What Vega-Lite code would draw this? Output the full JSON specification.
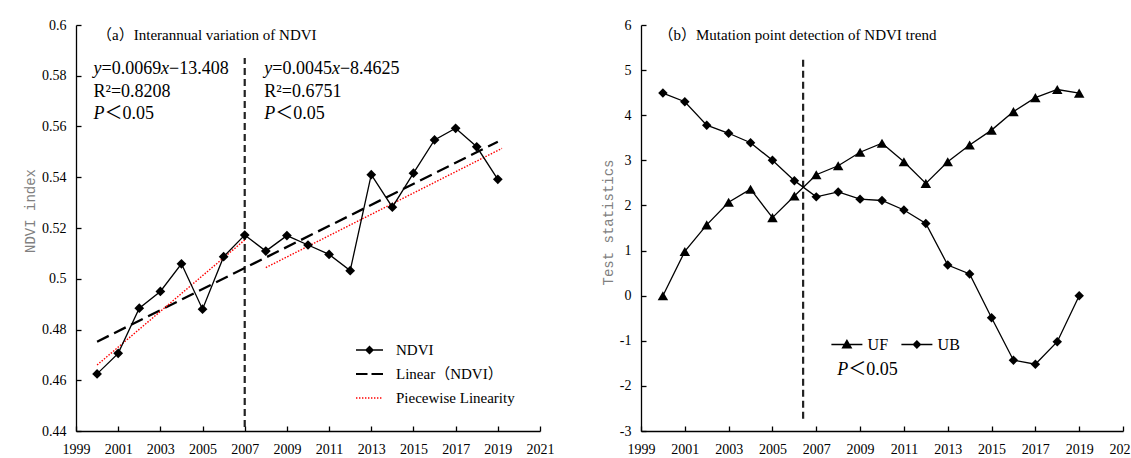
{
  "$schema": "https://vega.github.io/schema/vega-lite/v6.json",
  "background": "white",
  "padding": {"left": 23, "top": 18, "right": 0, "bottom": 0},
  "spacing": 47,
  "config": {
    "view": {"stroke": null},
    "axis": {
      "grid": false, "domainColor": "black", "domainWidth": 1.3,
      "tickColor": "black", "tickWidth": 1.3, "tickSize": -5,
      "labelFont": "Liberation Serif", "labelFontSize": 14, "labelColor": "black",
      "titleFont": "Liberation Mono", "titleFontSize": 14, "titleFontWeight": "normal",
      "titleColor": "#808080", "titlePadding": 4, "labelFlush": false, "labelOverlap": false
    },
    "axisX": {"labelPadding": 16.5},
    "axisY": {"labelPadding": 15},
    "legend": {"padding": 0}
  },
  "resolve": {
    "scale": {"color": "independent", "shape": "independent"},
    "legend": {"color": "independent", "shape": "independent"}
  },
  "datasets": {
    "ndvi": [
      {"series": "NDVI", "year": 2000, "value": 0.4625},
      {"series": "NDVI", "year": 2001, "value": 0.4706},
      {"series": "NDVI", "year": 2002, "value": 0.4884},
      {"series": "NDVI", "year": 2003, "value": 0.4950},
      {"series": "NDVI", "year": 2004, "value": 0.5059},
      {"series": "NDVI", "year": 2005, "value": 0.4880},
      {"series": "NDVI", "year": 2006, "value": 0.5087},
      {"series": "NDVI", "year": 2007, "value": 0.5172},
      {"series": "NDVI", "year": 2008, "value": 0.5109},
      {"series": "NDVI", "year": 2009, "value": 0.5170},
      {"series": "NDVI", "year": 2010, "value": 0.5133},
      {"series": "NDVI", "year": 2011, "value": 0.5096},
      {"series": "NDVI", "year": 2012, "value": 0.5032},
      {"series": "NDVI", "year": 2013, "value": 0.5410},
      {"series": "NDVI", "year": 2014, "value": 0.5282},
      {"series": "NDVI", "year": 2015, "value": 0.5416},
      {"series": "NDVI", "year": 2016, "value": 0.5547},
      {"series": "NDVI", "year": 2017, "value": 0.5593},
      {"series": "NDVI", "year": 2018, "value": 0.5520},
      {"series": "NDVI", "year": 2019, "value": 0.5392}
    ],
    "linear": [
      {"year": 2000, "value": 0.4752},
      {"year": 2019, "value": 0.5540}
    ],
    "piecewise": [
      {"seg": "a", "year": 2000, "value": 0.4660},
      {"seg": "a", "year": 2007, "value": 0.5153},
      {"seg": "b", "year": 2008, "value": 0.5044},
      {"seg": "b", "year": 2019.2, "value": 0.5514}
    ],
    "vlineA": [{"year": 2007, "value": 0.4416, "value2": 0.587}],
    "titleA": [{"year": 2000.0, "value": 0.5941, "text": "（a）Interannual variation of NDVI"}],
    "italicA0": [
      {"year": 1999.83, "value": 0.58069, "text": "y"},
      {"year": 2007.93, "value": 0.58069, "text": "y"},
      {"year": 1999.83, "value": 0.56276, "text": "P"},
      {"year": 2007.93, "value": 0.56276, "text": "P"}
    ],
    "normalA8": [
      {"year": 1999.83, "value": 0.58069, "text": "=0.0069"},
      {"year": 2007.93, "value": 0.58069, "text": "=0.0045"}
    ],
    "italicAx": [
      {"year": 1999.83, "value": 0.58069, "text": "x"},
      {"year": 2007.93, "value": 0.58069, "text": "x"}
    ],
    "normalAc": [
      {"year": 1999.83, "value": 0.58069, "text": "−13.408"},
      {"year": 2007.93, "value": 0.58069, "text": "−8.4625"}
    ],
    "normalA0": [
      {"year": 1999.83, "value": 0.57182, "text": "R²=0.8208"},
      {"year": 2007.93, "value": 0.57182, "text": "R²=0.6751"}
    ],
    "normalAp": [
      {"year": 1999.83, "value": 0.56276, "text": "＜0.05"},
      {"year": 2007.93, "value": 0.56276, "text": "＜0.05"}
    ],
    "mk": [
      {"series": "UF", "year": 2000, "value": 0},
      {"series": "UF", "year": 2001, "value": 0.98},
      {"series": "UF", "year": 2002, "value": 1.57},
      {"series": "UF", "year": 2003, "value": 2.07},
      {"series": "UF", "year": 2004, "value": 2.36},
      {"series": "UF", "year": 2005, "value": 1.73},
      {"series": "UF", "year": 2006, "value": 2.21},
      {"series": "UF", "year": 2007, "value": 2.68},
      {"series": "UF", "year": 2008, "value": 2.88},
      {"series": "UF", "year": 2009, "value": 3.18},
      {"series": "UF", "year": 2010, "value": 3.38},
      {"series": "UF", "year": 2011, "value": 2.97},
      {"series": "UF", "year": 2012, "value": 2.49},
      {"series": "UF", "year": 2013, "value": 2.97},
      {"series": "UF", "year": 2014, "value": 3.34},
      {"series": "UF", "year": 2015, "value": 3.67},
      {"series": "UF", "year": 2016, "value": 4.08},
      {"series": "UF", "year": 2017, "value": 4.39},
      {"series": "UF", "year": 2018, "value": 4.57},
      {"series": "UF", "year": 2019, "value": 4.49},
      {"series": "UB", "year": 2000, "value": 4.49},
      {"series": "UB", "year": 2001, "value": 4.30},
      {"series": "UB", "year": 2002, "value": 3.78},
      {"series": "UB", "year": 2003, "value": 3.60},
      {"series": "UB", "year": 2004, "value": 3.39},
      {"series": "UB", "year": 2005, "value": 3.00},
      {"series": "UB", "year": 2006, "value": 2.55},
      {"series": "UB", "year": 2007, "value": 2.19},
      {"series": "UB", "year": 2008, "value": 2.30},
      {"series": "UB", "year": 2009, "value": 2.14},
      {"series": "UB", "year": 2010, "value": 2.11},
      {"series": "UB", "year": 2011, "value": 1.90},
      {"series": "UB", "year": 2012, "value": 1.60},
      {"series": "UB", "year": 2013, "value": 0.68},
      {"series": "UB", "year": 2014, "value": 0.48},
      {"series": "UB", "year": 2015, "value": -0.49},
      {"series": "UB", "year": 2016, "value": -1.43},
      {"series": "UB", "year": 2017, "value": -1.52},
      {"series": "UB", "year": 2018, "value": -1.02},
      {"series": "UB", "year": 2019, "value": 0.0}
    ],
    "vlineB": [{"year": 2006.4, "value": -2.73, "value2": 5.27}],
    "titleB": [{"year": 1999.8, "value": 5.667, "text": "（b）Mutation point detection of NDVI trend"}],
    "italicB": [{"year": 2007.96, "value": -1.759, "text": "P"}],
    "normalB": [{"year": 2007.96, "value": -1.759, "text": "＜0.05"}]
  },
  "hconcat": [
    {
      "width": 464,
      "height": 406,
      "encoding": {
        "x": {
          "field": "year", "type": "quantitative",
          "scale": {"domain": [1999, 2021], "nice": false, "zero": false},
          "axis": {"title": null, "format": "d", "values": [1999, 2001, 2003, 2005, 2007, 2009, 2011, 2013, 2015, 2017, 2019, 2021]}
        },
        "y": {
          "field": "value", "type": "quantitative",
          "scale": {"domain": [0.44, 0.6], "nice": false, "zero": false},
          "axis": {"title": "NDVI index", "titleY": 185.5, "values": [0.44, 0.46, 0.48, 0.5, 0.52, 0.54, 0.56, 0.58, 0.6], "labelExpr": "format(datum.value, '.2~f')"}
        }
      },
      "layer": [
        {
          "data": {"name": "vlineA"},
          "mark": {"type": "rule", "color": "#222222", "strokeWidth": 2.2, "strokeDash": [7, 4]},
          "encoding": {"y2": {"field": "value2"}}
        },
        {
          "data": {"name": "linear"},
          "mark": {"type": "line", "color": "black", "strokeWidth": 2.3, "strokeDash": [13, 6]},
          "encoding": {}
        },
        {
          "data": {"name": "piecewise"},
          "mark": {"type": "line", "color": "#ff0000", "strokeWidth": 1.4, "strokeDash": [1.5, 1.5]},
          "encoding": {"detail": {"field": "seg"}}
        },
        {
          "data": {"name": "ndvi"},
          "mark": {"type": "line", "color": "black", "strokeWidth": 1.3},
          "encoding": {}
        },
        {
          "data": {"name": "ndvi"},
          "mark": {"type": "point", "shape": "diamond", "filled": true, "color": "black", "size": 95, "opacity": 1},
          "encoding": {}
        },
        {
          "data": {"name": "ndvi"},
          "mark": {"type": "point", "filled": true, "opacity": 0, "size": 400},
          "encoding": {
            "shape": {
              "field": "series", "type": "nominal",
              "scale": {
                "domain": ["NDVI", "Linear（NDVI）", "Piecewise Linearity"],
                "range": [
                  "M-1.35,-0.065H1.35V0.065H-1.35ZM0,-0.45L0.45,0L0,0.45L-0.45,0Z",
                  "M-1.35,-0.11H-0.2V0.11H-1.35ZM0.2,-0.11H1.35V0.11H0.2Z",
                  "M-1.35,-0.07h0.14v0.14h-0.14ZM-1.05,-0.07h0.14v0.14h-0.14ZM-0.75,-0.07h0.14v0.14h-0.14ZM-0.45,-0.07h0.14v0.14h-0.14ZM-0.15,-0.07h0.14v0.14h-0.14ZM0.15,-0.07h0.14v0.14h-0.14ZM0.45,-0.07h0.14v0.14h-0.14ZM0.75,-0.07h0.14v0.14h-0.14ZM1.05,-0.07h0.14v0.14h-0.14Z"
                ]
              },
              "legend": {
                "orient": "none", "legendX": 283.5, "legendY": 315, "title": null,
                "symbolSize": 400, "symbolOpacity": 1, "symbolStrokeWidth": 0,
                "labelFont": "Liberation Serif, Noto Sans CJK SC", "labelFontSize": 15,
                "labelColor": "black", "labelOffset": 16.5, "rowPadding": 6, "padding": 0, "labelLimit": 400
              }
            },
            "color": {
              "field": "series", "type": "nominal",
              "scale": {"domain": ["NDVI", "Linear（NDVI）", "Piecewise Linearity"], "range": ["#000000", "#000000", "#ff0000"]},
              "legend": {
                "orient": "none", "legendX": 283.5, "legendY": 315, "title": null,
                "symbolSize": 400, "symbolOpacity": 1, "symbolStrokeWidth": 0,
                "labelFont": "Liberation Serif, Noto Sans CJK SC", "labelFontSize": 15,
                "labelColor": "black", "labelOffset": 16.5, "rowPadding": 6, "padding": 0, "labelLimit": 400
              }
            }
          }
        },
        {
          "data": {"name": "titleA"},
          "mark": {"type": "text", "align": "left", "baseline": "alphabetic", "font": "Liberation Serif, Noto Sans CJK SC", "fontSize": 15, "color": "black"},
          "encoding": {"text": {"field": "text"}}
        },
        {
          "data": {"name": "italicA0"},
          "mark": {"type": "text", "align": "left", "baseline": "alphabetic", "font": "Liberation Serif", "fontStyle": "italic", "fontSize": 18, "color": "black"},
          "encoding": {"text": {"field": "text"}}
        },
        {
          "data": {"name": "normalA8"},
          "mark": {"type": "text", "align": "left", "baseline": "alphabetic", "font": "Liberation Serif", "fontSize": 18, "color": "black", "dx": 8},
          "encoding": {"text": {"field": "text"}}
        },
        {
          "data": {"name": "italicAx"},
          "mark": {"type": "text", "align": "left", "baseline": "alphabetic", "font": "Liberation Serif", "fontStyle": "italic", "fontSize": 18, "color": "black", "dx": 67.6},
          "encoding": {"text": {"field": "text"}}
        },
        {
          "data": {"name": "normalAc"},
          "mark": {"type": "text", "align": "left", "baseline": "alphabetic", "font": "Liberation Serif", "fontSize": 18, "color": "black", "dx": 75.6},
          "encoding": {"text": {"field": "text"}}
        },
        {
          "data": {"name": "normalA0"},
          "mark": {"type": "text", "align": "left", "baseline": "alphabetic", "font": "Liberation Serif", "fontSize": 18, "color": "black"},
          "encoding": {"text": {"field": "text"}}
        },
        {
          "data": {"name": "normalAp"},
          "mark": {"type": "text", "align": "left", "baseline": "alphabetic", "font": "Liberation Serif, Noto Sans CJK SC", "fontSize": 18, "color": "black", "dx": 11},
          "encoding": {"text": {"field": "text"}}
        }
      ]
    },
    {
      "width": 482,
      "height": 406,
      "encoding": {
        "x": {
          "field": "year", "type": "quantitative",
          "scale": {"domain": [1999, 2021], "nice": false, "zero": false},
          "axis": {"title": null, "format": "d", "values": [1999, 2001, 2003, 2005, 2007, 2009, 2011, 2013, 2015, 2017, 2019, 2021]}
        },
        "y": {
          "field": "value", "type": "quantitative",
          "scale": {"domain": [-3, 6], "nice": false, "zero": false},
          "axis": {"title": "Test statistics", "titleY": 197, "values": [-3, -2, -1, 0, 1, 2, 3, 4, 5, 6], "labelExpr": "datum.value < 0 ? '-' + (-datum.value) : '' + datum.value"}
        }
      },
      "layer": [
        {
          "data": {"name": "vlineB"},
          "mark": {"type": "rule", "color": "#222222", "strokeWidth": 2.2, "strokeDash": [7, 4]},
          "encoding": {"y2": {"field": "value2"}}
        },
        {
          "data": {"name": "mk"},
          "mark": {"type": "line", "color": "black", "strokeWidth": 1.3},
          "encoding": {"detail": {"field": "series"}}
        },
        {
          "data": {"name": "mk"},
          "transform": [{"filter": "datum.series === 'UF'"}],
          "mark": {"type": "point", "shape": "triangle-up", "filled": true, "color": "black", "size": 110, "opacity": 1},
          "encoding": {}
        },
        {
          "data": {"name": "mk"},
          "transform": [{"filter": "datum.series === 'UB'"}],
          "mark": {"type": "point", "shape": "diamond", "filled": true, "color": "black", "size": 90, "opacity": 1},
          "encoding": {}
        },
        {
          "data": {"name": "mk"},
          "mark": {"type": "point", "filled": true, "opacity": 0, "size": 400},
          "encoding": {
            "shape": {
              "field": "series", "type": "nominal",
              "scale": {
                "domain": ["UF", "UB"],
                "range": [
                  "M-1.55,-0.065H1.55V0.065H-1.55ZM0,-0.55L0.55,0.4L-0.55,0.4Z",
                  "M-1.55,-0.065H1.55V0.065H-1.55ZM0,-0.45L0.45,0L0,0.45L-0.45,0Z"
                ]
              },
              "legend": {
                "orient": "none", "legendX": 195.9, "legendY": 309.5, "direction": "horizontal", "title": null,
                "symbolSize": 400, "symbolOpacity": 1, "symbolStrokeWidth": 0,
                "labelFont": "Liberation Serif", "labelFontSize": 16, "labelColor": "black",
                "labelOffset": 10.7, "columnPadding": 12, "padding": 0
              }
            },
            "color": {
              "field": "series", "type": "nominal",
              "scale": {"domain": ["UF", "UB"], "range": ["#000000", "#000000"]},
              "legend": {
                "orient": "none", "legendX": 195.9, "legendY": 309.5, "direction": "horizontal", "title": null,
                "symbolSize": 400, "symbolOpacity": 1, "symbolStrokeWidth": 0,
                "labelFont": "Liberation Serif", "labelFontSize": 16, "labelColor": "black",
                "labelOffset": 10.7, "columnPadding": 12, "padding": 0
              }
            }
          }
        },
        {
          "data": {"name": "titleB"},
          "mark": {"type": "text", "align": "left", "baseline": "alphabetic", "font": "Liberation Serif, Noto Sans CJK SC", "fontSize": 15, "color": "black"},
          "encoding": {"text": {"field": "text"}}
        },
        {
          "data": {"name": "italicB"},
          "mark": {"type": "text", "align": "left", "baseline": "alphabetic", "font": "Liberation Serif", "fontStyle": "italic", "fontSize": 18, "color": "black"},
          "encoding": {"text": {"field": "text"}}
        },
        {
          "data": {"name": "normalB"},
          "mark": {"type": "text", "align": "left", "baseline": "alphabetic", "font": "Liberation Serif, Noto Sans CJK SC", "fontSize": 18, "color": "black", "dx": 11},
          "encoding": {"text": {"field": "text"}}
        }
      ]
    }
  ]
}
